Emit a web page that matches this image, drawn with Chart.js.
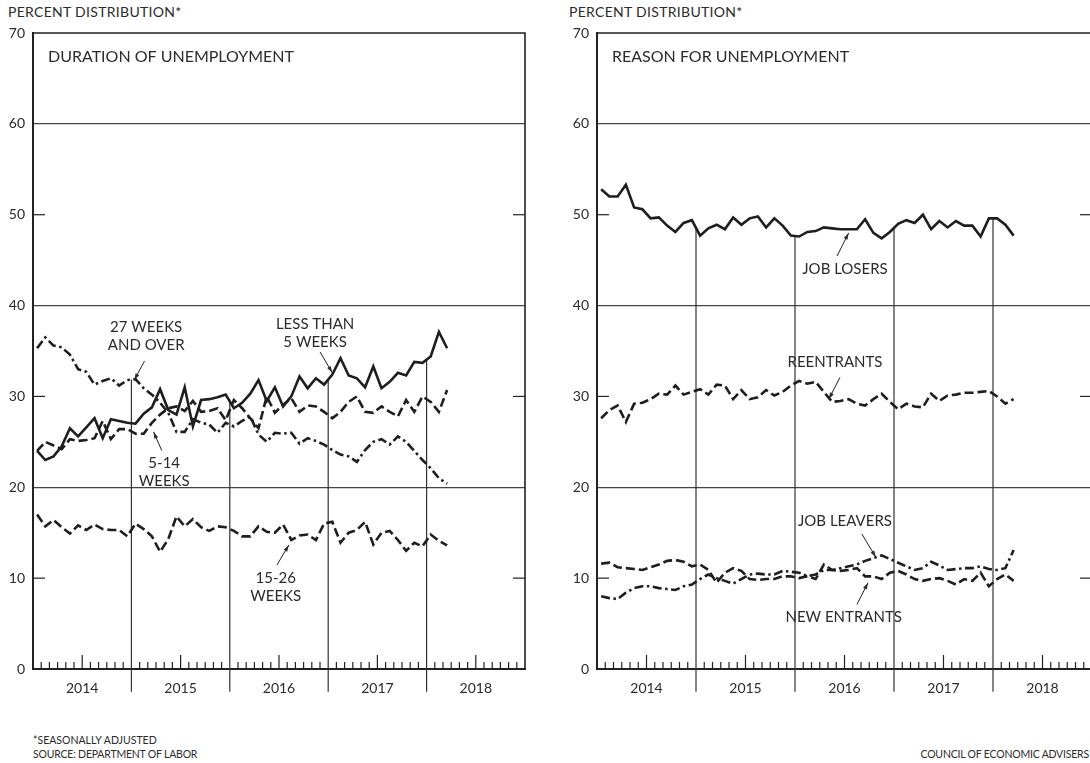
<!DOCTYPE html>
<html>
<head>
<meta charset="utf-8">
<script src="https://cdn.jsdelivr.net/npm/chart.js@4.4.0/dist/chart.umd.min.js"></script>
<style>
  html, body { margin: 0; padding: 0; background: #fff; }
  body { width: 1090px; height: 763px; overflow: hidden; position: relative; font-family: Lato, "Open Sans", sans-serif; color: #2b2b2b; }
  canvas { position: absolute; top: 0; }
  #left { left: 0; }
  #right { left: 560px; }
  .txt { position: absolute; white-space: nowrap; }
  .head { font-size: 14px; line-height: 14px; top: 5px; letter-spacing: 0.3px; }
  .foot { font-size: 10.5px; line-height: 10px; }
</style>
</head>
<body>
<div class="txt head" style="left:8px;">PERCENT DISTRIBUTION*</div>
<div class="txt head" style="left:569px;">PERCENT DISTRIBUTION*</div>
<canvas id="left" width="545" height="720"></canvas>
<canvas id="right" width="540" height="720"></canvas>
<div class="txt foot" style="left:33px; top:735px;">*SEASONALLY ADJUSTED</div>
<div class="txt foot" style="left:33px; top:749px; letter-spacing:-0.2px;">SOURCE: DEPARTMENT OF LABOR</div>
<div class="txt foot" style="right:1px; top:749px; letter-spacing:-0.2px;">COUNCIL OF ECONOMIC ADVISERS</div>
<script>
// monthly, Jan 2014 - Mar 2018 (percent of unemployed)
const yearLabels = ["2014", "2015", "2016", "2017", "2018"];
const yTicks = [0, 10, 20, 30, 40, 50, 60, 70];

const lessThan5 = [24.0, 23.0, 23.4, 24.5, 26.5, 25.6, 26.6, 27.6, 25.4, 27.5, 27.3, 27.1,
  27.0, 28.1, 28.8, 30.8, 28.5, 28.0, 31.0, 26.7, 29.6, 29.7, 29.9, 30.2,
  28.7, 29.3, 30.3, 31.8, 29.5, 31.0, 28.9, 30.0, 32.2, 30.9, 32.0, 31.3,
  32.4, 34.2, 32.3, 32.0, 31.0, 33.3, 30.9, 31.6, 32.6, 32.3, 33.8, 33.7,
  34.4, 37.1, 35.3];
const weeks5to14 = [24.0, 25.0, 24.6, 24.2, 25.3, 25.1, 25.2, 25.4, 27.3, 25.3, 26.4, 26.4,
  25.9, 25.9, 27.1, 28.0, 28.7, 28.9, 28.4, 29.5, 28.3, 28.4, 28.7, 27.4,
  29.6, 28.7, 27.6, 26.5, 30.0, 28.2, 29.1, 29.8, 28.3, 29.0, 28.9, 28.3,
  27.6, 28.3, 29.4, 30.0, 28.3, 28.2, 28.9, 28.3, 27.8, 29.6, 28.3, 30.0,
  29.4, 28.3, 30.7];
const weeks15to26 = [17.0, 15.7, 16.4, 15.6, 14.9, 15.8, 15.3, 15.9, 15.4, 15.3, 15.3, 14.6,
  16.0, 15.4, 14.6, 12.9, 14.3, 16.8, 15.7, 16.5, 15.6, 15.2, 15.7, 15.6,
  15.2, 14.6, 14.6, 15.7, 15.1, 15.0, 15.9, 14.2, 14.7, 14.8, 14.2, 16.0,
  16.2, 13.9, 15.0, 15.3, 16.2, 13.7, 15.0, 15.2, 14.2, 13.0, 13.9, 13.5,
  14.8, 14.1, 13.6];
const weeks27plus = [35.3, 36.5, 35.6, 35.4, 34.6, 33.0, 32.7, 31.3, 31.7, 32.0, 31.2, 31.8,
  31.9, 30.9, 30.2, 29.3, 28.2, 26.1, 26.1, 27.5, 27.1, 26.9, 26.0, 27.1,
  26.7, 27.3, 27.8, 25.8, 25.0, 26.0, 25.9, 26.0, 24.8, 25.4, 25.1, 24.7,
  24.1, 23.6, 23.4, 22.8, 24.1, 25.0, 25.3, 24.7, 25.6, 25.0, 24.0, 23.0,
  22.1, 21.0, 20.4];

const jobLosers = [52.8, 52.0, 52.0, 53.3, 50.8, 50.6, 49.6, 49.7, 48.8, 48.1, 49.1, 49.4,
  47.7, 48.5, 48.9, 48.4, 49.7, 48.9, 49.6, 49.8, 48.6, 49.6, 48.8, 47.7,
  47.6, 48.1, 48.2, 48.6, 48.5, 48.4, 48.4, 48.4, 49.5, 48.0, 47.4, 48.1,
  49.0, 49.4, 49.1, 50.0, 48.4, 49.3, 48.6, 49.3, 48.8, 48.8, 47.6, 49.6,
  49.6, 48.9, 47.7];
const reentrants = [27.6, 28.5, 29.0, 27.2, 29.2, 29.3, 29.7, 30.3, 30.2, 31.2, 30.2, 30.5,
  30.8, 30.2, 31.3, 31.2, 29.7, 30.7, 29.7, 29.9, 30.7, 30.1, 30.5, 31.2,
  31.7, 31.4, 31.6, 30.5, 29.4, 29.5, 29.7, 29.2, 29.0, 29.7, 30.3, 29.4,
  28.6, 29.2, 28.9, 28.8, 30.3, 29.5, 30.1, 30.2, 30.4, 30.4, 30.5, 30.6,
  30.0, 29.2, 29.7];
const jobLeavers = [8.0, 7.8, 7.7, 8.4, 8.9, 9.1, 9.1, 8.9, 8.8, 8.7, 9.1, 9.3,
  9.9, 10.4, 10.0, 9.7, 9.4, 9.9, 10.4, 10.5, 10.4, 10.4, 10.8, 10.7,
  10.6, 10.2, 10.4, 10.9, 10.9, 11.1, 11.3, 11.5, 11.9, 12.2, 12.5, 12.1,
  11.7, 11.3, 10.9, 11.1, 11.8, 11.4, 10.9, 11.0, 11.1, 11.1, 11.3, 11.0,
  10.9, 11.1, 13.1];
const newEntrants = [11.6, 11.7, 11.2, 11.1, 11.0, 10.9, 11.2, 11.5, 11.9, 12.0, 11.8, 11.3,
  11.5, 10.9, 9.5, 10.6, 11.1, 10.8, 9.9, 9.8, 9.9, 9.9, 10.2, 10.2,
  10.0, 10.2, 9.9, 11.5, 10.9, 10.8, 10.9, 11.1, 10.2, 10.2, 9.9, 10.6,
  10.8, 10.4, 9.9, 9.7, 9.9, 10.0, 9.7, 9.3, 9.9, 9.7, 10.6, 9.1,
  9.9, 10.4, 9.7];

const INK = "#1e1e1e";
const SOLID = [];
const DASH = [9, 4];
const DASHDOT = [9, 3.5, 2.5, 3.5];

Chart.defaults.font.family = "Lato, 'Open Sans', sans-serif";
Chart.defaults.color = "#2b2b2b";

// month index -> point in the middle of the month
const toPoints = (arr) => arr.map((v, i) => ({ x: i + 0.5, y: v }));

const series = (data, dash) => ({
  data: toPoints(data),
  borderColor: INK,
  borderWidth: 2.6,
  borderDash: dash,
  pointRadius: 0,
  fill: false,
});

// year separators: from below the axis up to the top series at the boundary
const dropLines = (all) => [12, 24, 36, 48].map((b) => {
  const top = Math.max(...all.map((s) => (s[b - 1] + s[b]) / 2));
  return {
    data: [{ x: b, y: -2.5 }, { x: b, y: top }],
    borderColor: "#333",
    borderWidth: 1.2,
    pointRadius: 0,
    clip: false,
  };
});

function line(ctx, x1, y1, x2, y2) {
  ctx.beginPath();
  ctx.moveTo(x1, y1);
  ctx.lineTo(x2, y2);
  ctx.stroke();
}

const deco = {
  id: "deco",
  afterDraw(chart, args, opts) {
    const { ctx, chartArea: a, scales: { x, y } } = chart;
    ctx.save();
    ctx.strokeStyle = "#222";
    ctx.lineWidth = 1.6;
    ctx.beginPath();
    ctx.moveTo(a.left, a.top);
    ctx.lineTo(a.right, a.top);
    ctx.lineTo(a.right, a.bottom);
    ctx.stroke();

    ctx.lineWidth = 1.2;
    [10, 30, 50].forEach((v) => {
      const py = y.getPixelForValue(v);
      line(ctx, a.left, py, a.left + 12, py);
      line(ctx, a.right - 12, py, a.right, py);
    });
    for (let m = 1; m < 60; m++) {
      if (m % 12 === 0) continue;
      const px = x.getPixelForValue(m);
      line(ctx, px, a.bottom, px, a.bottom - (m % 6 === 0 ? 14 : 7));
    }

    ctx.fillStyle = "#2b2b2b";
    ctx.textBaseline = "middle";
    ctx.font = "16px Lato";
    ctx.textAlign = "left";
    ctx.fillText(opts.title, a.left + 15, a.top + 24);

    ctx.font = "15px Lato";
    ctx.textAlign = "center";
    opts.notes.forEach((n) => {
      const px = x.getPixelForValue(n.x);
      const py = y.getPixelForValue(n.y);
      n.lines.forEach((t, i) => ctx.fillText(t, px, py + i * 18));
      const [ax1, ay1, ax2, ay2] = n.arrow;
      const x1 = x.getPixelForValue(ax1), y1 = y.getPixelForValue(ay1);
      const x2 = x.getPixelForValue(ax2), y2 = y.getPixelForValue(ay2);
      ctx.lineWidth = 1;
      line(ctx, x1, y1, x2, y2);
      const ang = Math.atan2(y2 - y1, x2 - x1);
      ctx.beginPath();
      ctx.moveTo(x2, y2);
      ctx.lineTo(x2 - 7 * Math.cos(ang - 0.3), y2 - 7 * Math.sin(ang - 0.3));
      ctx.lineTo(x2 - 7 * Math.cos(ang + 0.3), y2 - 7 * Math.sin(ang + 0.3));
      ctx.closePath();
      ctx.fill();
    });
    ctx.restore();
  },
};

function makeChart(id, datasets, axisWidth, padRight, title, notes) {
  return new Chart(document.getElementById(id), {
    type: "line",
    data: { datasets },
    plugins: [deco],
    options: {
      responsive: false,
      animation: false,
      layout: { padding: { top: 33, right: padRight, left: 0, bottom: 0 } },
      plugins: {
        legend: { display: false },
        tooltip: { enabled: false },
        deco: { title, notes },
      },
      scales: {
        x: {
          type: "linear",
          min: 0,
          max: 60,
          afterBuildTicks: (s) => { s.ticks = [6, 18, 30, 42, 54].map((v) => ({ value: v })); },
          afterFit: (s) => { s.height = 51; },
          ticks: {
            autoSkip: false,
            maxRotation: 0,
            padding: 11,
            font: { size: 14 },
            callback: (v) => yearLabels[(v - 6) / 12],
          },
          grid: { color: "rgba(0,0,0,0)", drawTicks: false },
          border: { display: true, color: "#222", width: 2 },
        },
        y: {
          min: 0,
          max: 70,
          afterBuildTicks: (s) => { s.ticks = yTicks.map((v) => ({ value: v })); },
          afterFit: (s) => { s.width = axisWidth; },
          ticks: { padding: 8, font: { size: 14 } },
          grid: {
            drawTicks: false,
            color: (c) => ([20, 40, 60].includes(c.tick && c.tick.value) ? "#444" : "rgba(0,0,0,0)"),
            lineWidth: 1.2,
          },
          border: { display: true, color: "#222", width: 2 },
        },
      },
    },
  });
}

makeChart("left", [
  series(lessThan5, SOLID),
  series(weeks5to14, DASH),
  series(weeks15to26, DASH),
  series(weeks27plus, DASHDOT),
  ...dropLines([lessThan5, weeks5to14, weeks15to26, weeks27plus]),
], 33, 20, "DURATION OF UNEMPLOYMENT", [
  { lines: ["27 WEEKS", "AND OVER"], x: 13.8, y: 37.6, arrow: [13.6, 33.9, 12.35, 31.8] },
  { lines: ["LESS THAN", "5 WEEKS"], x: 34.4, y: 38.0, arrow: [35.0, 34.9, 36.5, 32.6] },
  { lines: ["5-14", "WEEKS"], x: 16.0, y: 22.7, arrow: [15.7, 24.05, 14.7, 26.1] },
  { lines: ["15-26", "WEEKS"], x: 29.6, y: 10.0, arrow: [29.75, 11.45, 31.2, 13.65] },
]);

makeChart("right", [
  series(jobLosers, SOLID),
  series(reentrants, DASH),
  series(jobLeavers, DASHDOT),
  series(newEntrants, DASH),
  ...dropLines([jobLosers, reentrants, jobLeavers, newEntrants]),
], 37, 8, "REASON FOR UNEMPLOYMENT", [
  { lines: ["JOB LOSERS"], x: 30.06, y: 44.0, arrow: [29.1, 45.45, 30.5, 48.0] },
  { lines: ["REENTRANTS"], x: 28.85, y: 33.8, arrow: [29.45, 32.1, 28.1, 29.7] },
  { lines: ["JOB LEAVERS"], x: 30.06, y: 16.3, arrow: [32.1, 14.86, 33.8, 12.3] },
  { lines: ["NEW ENTRANTS"], x: 29.9, y: 5.7, arrow: [31.5, 7.1, 32.85, 9.5] },
]);
</script>
</body>
</html>
